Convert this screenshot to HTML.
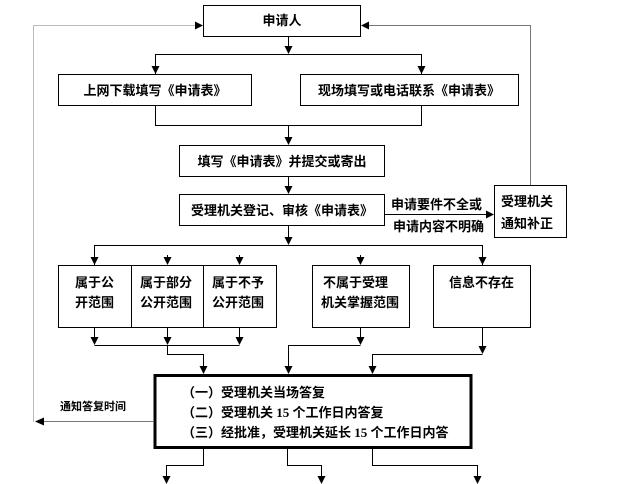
<!DOCTYPE html>
<html><head><meta charset="utf-8"><style>
html,body{margin:0;padding:0;background:#fff;width:622px;height:484px;overflow:hidden}
svg text{font-family:"Liberation Serif","Noto Sans CJK SC",sans-serif;font-size:13px;font-weight:bold;fill:#000}
</style></head><body>
<svg width="622" height="484" viewBox="0 0 622 484" xmlns="http://www.w3.org/2000/svg">
<defs>
<marker id="a" markerWidth="8" markerHeight="8" refX="7" refY="4" orient="auto" markerUnits="userSpaceOnUse"><path d="M0,0L8,4L0,8z" fill="#000"/></marker>
</defs>
<g fill="none" stroke="#000" stroke-width="1">
<rect x="203.5" y="5.5" width="157" height="31"/>
<rect x="58.5" y="74.5" width="193" height="31"/>
<rect x="300.5" y="74.5" width="218" height="31"/>
<rect x="179.5" y="145.5" width="205" height="31"/>
<rect x="179.5" y="194.5" width="205" height="31"/>
<rect x="494.5" y="185.5" width="72" height="52"/>
<rect x="58.5" y="265.5" width="73" height="62"/>
<rect x="131.5" y="265.5" width="72" height="62"/>
<rect x="203.5" y="265.5" width="73" height="62"/>
<rect x="312.5" y="265.5" width="97" height="62"/>
<rect x="433.5" y="265.5" width="97" height="62"/>
<rect x="155" y="375.5" width="316" height="72" stroke-width="3"/>
<path d="M288.5,36V53" marker-end="url(#a)"/>
<path d="M155.5,74V54.5H421.5V74"/>
<path d="M155.5,66V73" marker-end="url(#a)"/>
<path d="M421.5,66V73" marker-end="url(#a)"/>
<path d="M155.5,105V125.5H421.5V105"/>
<path d="M288.5,125V144" marker-end="url(#a)"/>
<path d="M288.5,176V193" marker-end="url(#a)"/>
<path d="M384,214.5H493" marker-end="url(#a)"/>
<path d="M288.5,225V244" marker-end="url(#a)"/>
<path d="M94.5,265V245.5H482.5V265"/>
<path d="M94.5,255V264" marker-end="url(#a)"/>
<path d="M167.5,255V264" marker-end="url(#a)"/>
<path d="M239.5,255V264" marker-end="url(#a)"/>
<path d="M360.5,255V264" marker-end="url(#a)"/>
<path d="M482.5,255V264" marker-end="url(#a)"/>
<path d="M94.5,327V344" marker-end="url(#a)"/>
<path d="M167.5,327V344" marker-end="url(#a)"/>
<path d="M239.5,327V344" marker-end="url(#a)"/>
<path d="M94.5,345.5H239.5"/>
<path d="M167.5,345V354.5H203.5V373" marker-end="url(#a)"/>
<path d="M360.5,327V344" marker-end="url(#a)"/>
<path d="M360.5,345.5H288.5V373" marker-end="url(#a)"/>
<path d="M482.5,327V353" marker-end="url(#a)"/>
<path d="M482.5,354.5H372.5V373" marker-end="url(#a)"/>
<path d="M203.5,448V465.5H166.5V483" marker-end="url(#a)"/>
<path d="M287.5,448V465.5H321.5V483" marker-end="url(#a)"/>
<path d="M372.5,448V465.5H477.5V483" marker-end="url(#a)"/>
</g>
<g fill="none" stroke="#777" stroke-width="1">
<path d="M33.5,421.5V25.5H195" stroke-dasharray="1,1"/>
<path d="M530.5,185V25.5H369"/>
<path d="M154,421.5H44"/>
</g>
<path d="M203,25.5L195,21.5V29.5z" fill="#000"/>
<path d="M361,25.5L369,21.5V29.5z" fill="#000"/>
<path d="M35,421.5L44,417.5V425.5z" fill="#000"/>
<text x="282" y="25" text-anchor="middle">申请人</text>
<text x="155" y="95" text-anchor="middle">上网下载填写《申请表》</text>
<text x="409" y="95" text-anchor="middle">现场填写或电话联系《申请表》</text>
<text x="282" y="166" text-anchor="middle">填写《申请表》并提交或寄出</text>
<text x="282" y="215" text-anchor="middle">受理机关登记、审核《申请表》</text>
<text x="391" y="209">申请要件不全或</text>
<text x="393" y="231">申请内容不明确</text>
<text x="501" y="206">受理机关</text>
<text x="501" y="228">通知补正</text>
<text x="75" y="287">属于公</text>
<text x="75" y="307">开范围</text>
<text x="140" y="287">属于部分</text>
<text x="140" y="307">公开范围</text>
<text x="212" y="287">属于不予</text>
<text x="212" y="307">公开范围</text>
<text x="323" y="287">不属于受理</text>
<text x="321" y="307">机关掌握范围</text>
<text x="449" y="287">信息不存在</text>
<text x="182" y="397">（一）受理机关当场答复</text>
<text x="182" y="417">（二）受理机关 15 个工作日内答复</text>
<text x="182" y="437">（三）经批准，受理机关延长 15 个工作日内答</text>
<text x="60" y="410" style="font-size:11px">通知答复时间</text>
</svg>
</body></html>
